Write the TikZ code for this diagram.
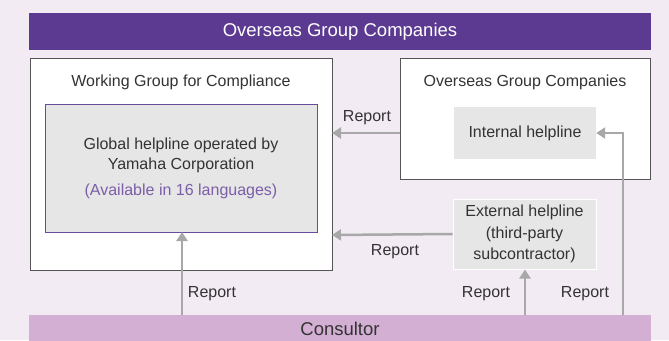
\documentclass[tikz,border=0pt]{standalone}
\usepackage{fontspec}
\setmainfont{Liberation Sans}
\usetikzlibrary{arrows.meta}
\definecolor{bgc}{HTML}{F3EBF4}
\definecolor{bandc}{HTML}{5C3A91}
\definecolor{consc}{HTML}{D4AFD4}
\definecolor{greyfill}{HTML}{E6E6E6}
\definecolor{innerborder}{HTML}{6A4C9C}
\definecolor{arrowc}{HTML}{A8A8A8}
\definecolor{boxborder}{HTML}{555555}
\definecolor{txt}{HTML}{333333}
\definecolor{purtxt}{HTML}{7B5EA7}
\tikzset{
  body/.style={font=\fontsize{16}{20}\selectfont, text=txt},
  bigtxt/.style={font=\fontsize{18.5}{22}\selectfont},
  outerbox/.style={draw=boxborder, line width=1pt, fill=white},
  rep/.style={draw=arrowc, line width=2.5pt, -{Triangle[width=11pt,length=9pt]}},
  lbl/.style={body, inner sep=0pt}
}
\begin{document}
\begin{tikzpicture}[x=1pt,y=-1pt]
\useasboundingbox (0,0) rectangle (669,340);
\fill[bgc] (0,0) rectangle (669,340);
% top band
\fill[bandc] (29,13) rectangle (651,50);
\node[bigtxt, text=white, inner sep=0pt] (band) at (340,32) {Overseas Group Companies};
% left box
\draw[outerbox] (30,58) rectangle (332,270);
\coordinate (leftE) at (332,133);
\coordinate (leftE2) at (332,235);
\node[lbl] (wgtitle) at (181,82) {Working Group for Compliance};
\draw[draw=innerborder, line width=1pt, fill=greyfill] (45,104) rectangle (317,232);
\coordinate (innerS) at (182,232);
\node[body, align=center, inner sep=0pt] (glob) at (181,155) {Global helpline operated by\\Yamaha Corporation};
\node[lbl, text=purtxt] (avail) at (181,191) {(Available in 16 languages)};
% right box
\draw[outerbox] (400,58) rectangle (650,179);
\coordinate (rightW) at (400,133);
\node[lbl] (ogtitle) at (525,82) {Overseas Group Companies};
\node[body, fill=greyfill, minimum width=142pt, minimum height=52pt, inner sep=0pt] (internal) at (525,133) {Internal helpline};
% external
\node[body, fill=greyfill, draw=white, line width=1pt, align=center, minimum width=143pt, minimum height=70pt, inner sep=0pt, font=\fontsize{16}{21.5}\selectfont] (external) at (524.5,234) {External helpline\\(third-party\\subcontractor)};
% consultor band
\fill[consc] (29,315) rectangle (651,345);
\node[bigtxt, text=txt, inner sep=0pt] (cons) at (340,329) {Consultor};
\coordinate (c1) at (182,315);
\coordinate (c2) at (525,315);
\coordinate (c3) at (623,315);
\coordinate (turn) at (623,133);
% arrows
\draw[rep] (rightW) -- (leftE);
\draw[rep] (external.west) -- (leftE2);
\draw[rep] (c1) -- (innerS);
\draw[rep] (c2) -- (external.south -| c2);
\draw[rep] (c3) -- (turn) -- (internal.east);
% labels
\node[lbl] (r1) at (367,118) {Report};
\node[lbl] (r2) at (395,252) {Report};
\node[lbl] (r3) at (212,294) {Report};
\node[lbl] (r4) at (486,294) {Report};
\node[lbl] (r5) at (585,294) {Report};
\end{tikzpicture}
\end{document}
